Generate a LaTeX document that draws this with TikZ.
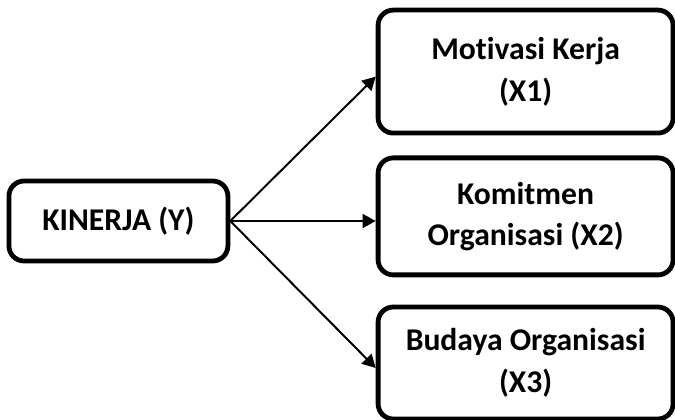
\documentclass[tikz,border=0pt]{standalone}
\usepackage{fontspec}
\setmainfont[Ligatures={NoCommon}]{Carlito}
\usetikzlibrary{arrows, arrows.meta}

\begin{document}
\begin{tikzpicture}[
  varbox/.style={draw=black, line width=0.12cm, rounded corners=0.38cm, align=center,
    inner sep=0pt, font=\fontsize{22.5}{29.5}\selectfont\bfseries},
  link/.style={line width=1.4pt, -{Triangle[length=3.3mm, width=3.5mm]}}
]
%\draw[step=0.5cm,gray,very thin] (0,0) grid (16.875,10.5); %background grid
\useasboundingbox (0,0) rectangle (16.875,10.5);

\node[varbox, minimum width=5.475cm, minimum height=2cm] (kin) at (2.96,4.975) {KINERJA (Y)};

\node[varbox, minimum width=7.375cm, minimum height=3.075cm] (x1) at (13.14,8.71) {Motivasi Kerja\\(X1)};
\node[varbox, minimum width=7.375cm, minimum height=2.925cm] (x2) at (13.14,5.09) {Komitmen\\Organisasi (X2)};
\node[varbox, minimum width=7.375cm, minimum height=2.8cm]   (x3) at (13.14,1.425) {Budaya Organisasi\\(X3)};

\draw[link] (kin.east) -- ([yshift=-1.25mm]x1.west);
\draw[link] (kin.east) -- (kin.east -| x2.west);
\draw[link] (kin.east) -- ([yshift=-1.25mm]x3.west);

\end{tikzpicture}
\end{document}
